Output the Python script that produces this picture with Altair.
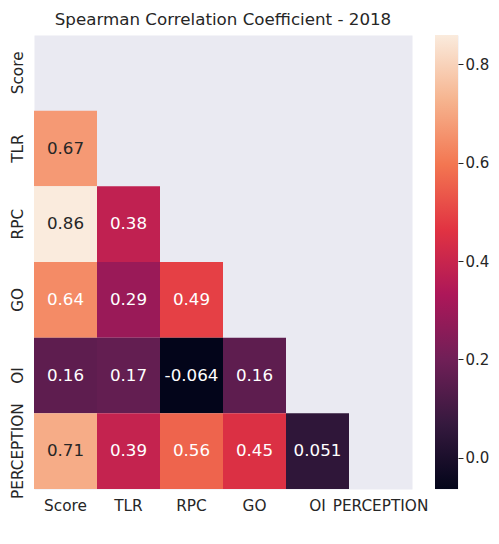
import altair as alt
import pandas as pd

# ---- data ----
labels = ["Score", "TLR", "RPC", "GO", "OI", "PERCEPTION"]
row_tlr = [0.67]
row_rpc = [0.86, 0.38]
row_go = [0.64, 0.29, 0.49]
row_oi = [0.16, 0.17, -0.064, 0.16]
row_perception = [0.71, 0.39, 0.56, 0.45, 0.051]
cbar_ticks = [0.0, 0.2, 0.4, 0.6, 0.8]
vmin, vmax = -0.064, 0.86
rocket = ["#03051a", "#35193e", "#701f57", "#ad1759",
          "#e13342", "#f37651", "#f6b48f", "#faebdd"]

rows = {"TLR": row_tlr, "RPC": row_rpc, "GO": row_go,
        "OI": row_oi, "PERCEPTION": row_perception}
records = []
for r, vals in rows.items():
    for j, v in enumerate(vals):
        records.append({"row": r, "col": labels[j], "value": v,
                        "label": f"{v:.2g}"})
df = pd.DataFrame(records)

n = len(rocket) - 1
cdom = [vmin + k / n * (vmax - vmin) for k in range(n + 1)]

FONT = "DejaVu Sans"
INK = "#262626"
W, H = 378, 454

base = alt.Chart(df).encode(
    x=alt.X("col:N", sort=labels,
            scale=alt.Scale(domain=labels, paddingInner=0, paddingOuter=0),
            axis=alt.Axis(title=None, labelAngle=0, ticks=False, domain=False,
                          labelPadding=9, labelFontSize=15.3, labelColor=INK,
                          labelFont=FONT)),
    y=alt.Y("row:N", sort=labels,
            scale=alt.Scale(domain=labels, paddingInner=0, paddingOuter=0),
            axis=alt.Axis(title=None, labelAngle=-90, labelAlign="center",
                          labelBaseline="alphabetic", ticks=False, domain=False,
                          labelPadding=12, labelFontSize=15.3, labelColor=INK,
                          labelFont=FONT)),
)

rects = base.mark_rect().encode(
    color=alt.Color("value:Q",
                    scale=alt.Scale(domain=cdom, range=rocket, interpolate="rgb"),
                    legend=None)
)
texts = base.mark_text(fontSize=16.7, font=FONT, baseline="middle").encode(
    text="label:N",
    color=alt.condition(alt.datum.value > 0.655, alt.value(INK), alt.value("#ffffff")),
)

heat = alt.layer(rects, texts).properties(
    width=W, height=H,
    title=alt.Title("Spearman Correlation Coefficient - 2018", anchor="middle",
                    frame="group", fontSize=16.7, font=FONT, fontWeight="normal",
                    color=INK, offset=-7, baseline="alphabetic"),
)

cbar_df = pd.DataFrame({"lo": [vmin], "hi": [vmax]})
grad = alt.Gradient(
    gradient="linear",
    stops=[alt.GradientStop(offset=k / n, color=c) for k, c in enumerate(rocket)],
    x1=0, x2=0, y1=1, y2=0,
)
cbar = alt.Chart(cbar_df).mark_rect(fill=grad).encode(
    y=alt.Y("lo:Q", scale=alt.Scale(domain=[vmin, vmax], nice=False, zero=False),
            axis=alt.Axis(orient="right", values=cbar_ticks, format=".1f",
                          title=None, tickSize=5, tickColor=INK, tickWidth=1,
                          labelPadding=2, labelFontSize=15, labelColor=INK,
                          labelFont=FONT, domain=False, grid=False)),
    y2="hi:Q",
).properties(width=23, height=H)

chart = alt.hconcat(heat, cbar, spacing=23, bounds="flush").properties(
    padding={"left": 1, "top": 3, "right": 0, "bottom": 0},
).configure_view(fill="#EAEAF2", stroke="transparent")

chart.save("out.html", embed_options={"renderer": "svg", "actions": False})
